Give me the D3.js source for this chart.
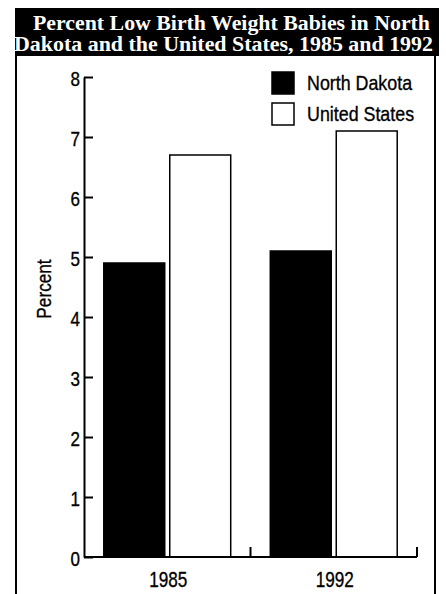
<!doctype html>
<html>
<head>
<script src="https://cdn.jsdelivr.net/npm/d3@7"></script>
<style>
  body { margin: 0; background: #fff; }
  svg { display: block; }
  text.sans { font-family: "Liberation Sans", Arial, sans-serif; stroke: #000; stroke-width: 0.35px; }
</style>
</head>
<body>
<svg width="446" height="594"></svg>
<script>
// data
var years = ["1985", "1992"];
var series = ["North Dakota", "United States"];
var northDakota = [4.9, 5.1];
var unitedStates = [6.7, 7.1];
var yTicks = [0, 1, 2, 3, 4, 5, 6, 7, 8];
var colors = ["#000", "#fff"];
var titleLines = ["Percent Low Birth Weight Babies in North",
                  "Dakota and the United States, 1985 and 1992"];

var svg = d3.select("svg");

// no narrow font installed, so squeeze Liberation Sans horizontally
function narrow(x, y, sx) {
  return `translate(${x},${y}) scale(${sx},1)`;
}

// title block
svg.append("rect")
   .attr("x", 15).attr("y", 8)
   .attr("width", 424).attr("height", 48)
   .style("fill", "#000");
svg.append("text")
   .style("font-family", "'Liberation Serif', 'Times New Roman', serif")
   .style("font-weight", "bold")
   .style("font-size", "21.5px")
   .style("fill", "#fff")
   .selectAll("tspan")
   .data(titleLines)
   .enter().append("tspan")
   .attr("x", (d, i) => i ? 14 : 33)
   .attr("y", (d, i) => i ? 51 : 30)
   .attr("textLength", (d, i) => i ? 419 : 397)
   .attr("lengthAdjust", "spacingAndGlyphs")
   .text(d => d);

// frame
svg.append("line").attr("x1", 16).attr("x2", 16).attr("y1", 56).attr("y2", 594)
   .style("stroke", "#000").style("stroke-width", 2);
svg.append("line").attr("x1", 435).attr("x2", 435).attr("y1", 56).attr("y2", 594)
   .style("stroke", "#000").style("stroke-width", 2);

var y = d3.scaleLinear().domain([0, 8]).range([557, 77]);
var x0 = d3.scaleBand().domain(years).range([84, 417]);
var x1 = d3.scaleBand().domain(series).range([0, x0.bandwidth()])
           .paddingInner(0.076).paddingOuter(0.3);

var g = svg.append("g");

var rows = years.map((yr, i) => ({year: yr, values: [northDakota[i], unitedStates[i]]}));

g.selectAll(".cat")
 .data(rows)
 .enter().append("g")
 .attr("class", "cat")
 .attr("transform", d => `translate(${x0(d.year)},0)`)
 .selectAll("rect")
 .data(d => d.values.map((v, j) => ({name: series[j], value: v})))
 .enter().append("rect")
 .attr("x", d => x1(d.name))
 .attr("y", d => y(d.value))
 .attr("width", x1.bandwidth())
 .attr("height", d => y(0) - y(d.value))
 .style("fill", (d, j) => colors[j])
 .style("stroke", "#000")
 .style("stroke-width", 1.5);

// y axis, ticks pointing inward
var yAxis = d3.axisLeft(y).tickValues(yTicks).tickSizeInner(-9).tickSizeOuter(0);
var ya = svg.append("g").attr("transform", "translate(84,0)").call(yAxis);
ya.select(".domain").style("stroke-width", 2);
ya.selectAll(".tick line").style("stroke-width", 2);
ya.selectAll("text")
  .attr("class", "sans")
  .attr("x", null).attr("dy", "0.36em")
  .attr("transform", narrow(-4, 1, 0.85))
  .style("font-size", "20px");

// x axis with separator ticks
var xa = svg.append("g").attr("transform", "translate(0,557)");
xa.append("line").attr("x1", 84).attr("x2", 417).attr("y1", 0).attr("y2", 0)
  .style("stroke", "#000").style("stroke-width", 2);
xa.selectAll(".sep")
  .data(years)
  .enter().append("line")
  .attr("class", "sep")
  .attr("x1", d => x0(d) + x0.bandwidth()).attr("x2", d => x0(d) + x0.bandwidth())
  .attr("y1", 0).attr("y2", -10)
  .style("stroke", "#000").style("stroke-width", 2);
xa.selectAll(".lab")
  .data(years)
  .enter().append("text")
  .attr("class", "sans")
  .attr("transform", d => narrow(x0(d) + x0.bandwidth() / 2 + 1, 30, 0.78))
  .attr("text-anchor", "middle")
  .style("font-size", "22px")
  .text(d => d);

// y label
svg.append("text")
   .attr("class", "sans")
   .attr("transform", "translate(51,289) rotate(-90) scale(0.82,1)")
   .attr("text-anchor", "middle")
   .style("font-size", "21px")
   .text("Percent");

// legend
var leg = svg.selectAll(".leg")
   .data(series)
   .enter().append("g")
   .attr("class", "leg")
   .attr("transform", (d, i) => `translate(272,${72 + i * 31})`);
leg.append("rect")
   .attr("width", 22).attr("height", 22)
   .style("fill", (d, i) => colors[i])
   .style("stroke", "#000").style("stroke-width", 1.5);
leg.append("text")
   .attr("class", "sans")
   .attr("transform", narrow(35, 18, 0.85))
   .style("font-size", "21px")
   .text(d => d);
</script>
</body>
</html>
